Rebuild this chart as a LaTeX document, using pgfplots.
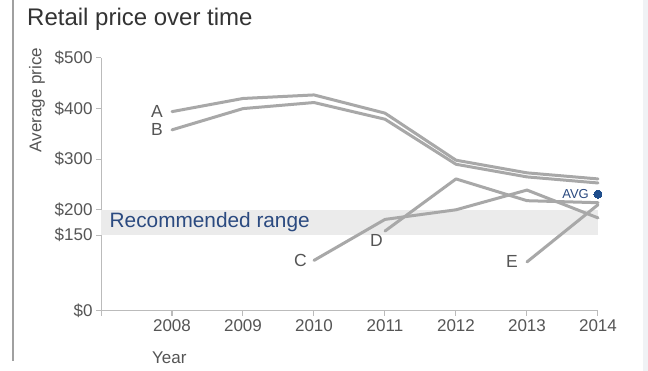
\documentclass[border=0pt]{standalone}
\usepackage{pgfplots}
\pgfplotsset{compat=1.18}
\usepackage{fontspec}
\setmainfont{Liberation Sans}
\definecolor{linegray}{HTML}{A8A8A8}
\definecolor{bandgray}{HTML}{EBEBEB}
\definecolor{textgray}{HTML}{555555}
\definecolor{titlegray}{HTML}{333333}
\definecolor{navy}{HTML}{2B4A80}
\definecolor{avgblue}{HTML}{1F4E8C}
\definecolor{axisgray}{HTML}{BBBBBB}
\definecolor{edgegray}{HTML}{F0F2F5}
\definecolor{leftgray}{HTML}{A0A0A0}
\pgfplotsset{trend/.style={color=linegray, line width=3pt, line join=round, line cap=round, mark=none}}
\begin{document}
\begin{tikzpicture}[x=1pt,y=1pt]
\useasboundingbox (0,0) rectangle (648,371);
\fill[white] (0,0) rectangle (648,371);
\fill[edgegray] (643,0) rectangle (648,371);
\draw[leftgray, line width=1.5pt] (13,10) -- (13,371);
\node[anchor=base west, font=\fontsize{24}{28}\selectfont, text=titlegray, inner sep=0pt] at (27,345) {Retail price over time};
\node[rotate=90, font=\fontsize{17}{19}\selectfont, text=textgray, inner sep=0pt] at (37,271) {Average price};
\node[anchor=base west, font=\fontsize{17}{20}\selectfont, text=textgray, inner sep=0pt] at (152,7) {Year};
\begin{axis}[
  at={(101pt,60pt)}, anchor=south west, scale only axis,
  width=497pt, height=253pt,
  xmin=2007, xmax=2014, ymin=0, ymax=500,
  axis x line=bottom, axis y line=left,
  axis line style={axisgray, line width=1pt, -},
  xtick={2007,2008,2009,2010,2011,2012,2013,2014},
  xticklabels={{},2008,2009,2010,2011,2012,2013,2014},
  ytick={0,150,200,300,400,500},
  yticklabels={\$0,\$150,\$200,\$300,\$400,\$500},
  tick style={axisgray, line width=1pt},
  major tick length=5pt, tick align=outside,
  /pgf/number format/assume math mode=true,
  ticklabel style={font=\fontsize{17}{20}\selectfont, text=textgray},
  clip=false,
]
\addplot[draw=none, fill=bandgray, line width=0pt, mark=none] coordinates {(2007,150) (2014,150) (2014,200) (2007,200)};
\node[anchor=west, font=\fontsize{20.8}{24}\selectfont, text=navy, inner sep=0pt] at (axis cs:2007.12,175) {Recommended range};
% A
\addplot[trend] coordinates {(2008,394) (2009,420) (2010,427) (2011,391) (2012,298) (2013,273) (2014,261)};
% B
\addplot[trend] coordinates {(2008,358) (2009,400) (2010,412) (2011,379) (2012,290) (2013,265) (2014,253)};
% C
\addplot[trend] coordinates {(2010,100) (2011,181) (2012,200) (2013,239) (2014,184)};
% D
\addplot[trend] coordinates {(2011,158) (2012,261) (2013,218) (2014,214)};
% E
\addplot[trend] coordinates {(2013,97) (2014,210)};
% AVG
\addplot[only marks, mark=*, mark size=4pt, color=avgblue, line width=0pt] coordinates {(2014,231)};
\node[anchor=east, font=\fontsize{17.5}{20}\selectfont, text=textgray, inner sep=0pt, xshift=-9pt] at (axis cs:2008,394) {A};
\node[anchor=east, font=\fontsize{17.5}{20}\selectfont, text=textgray, inner sep=0pt, xshift=-9pt] at (axis cs:2008,358) {B};
\node[anchor=east, font=\fontsize{17.5}{20}\selectfont, text=textgray, inner sep=0pt, xshift=-7pt] at (axis cs:2010,100) {C};
\node[anchor=north east, font=\fontsize{17.5}{20}\selectfont, text=textgray, inner sep=0pt, xshift=-2pt, yshift=-3pt] at (axis cs:2011,158) {D};
\node[anchor=east, font=\fontsize{17.5}{20}\selectfont, text=textgray, inner sep=0pt, xshift=-9pt] at (axis cs:2013,97) {E};
\node[anchor=east, font=\fontsize{13}{15}\selectfont, text=navy, inner sep=0pt, xshift=-9pt] at (axis cs:2014,231) {AVG};
\end{axis}
\end{tikzpicture}
\end{document}
